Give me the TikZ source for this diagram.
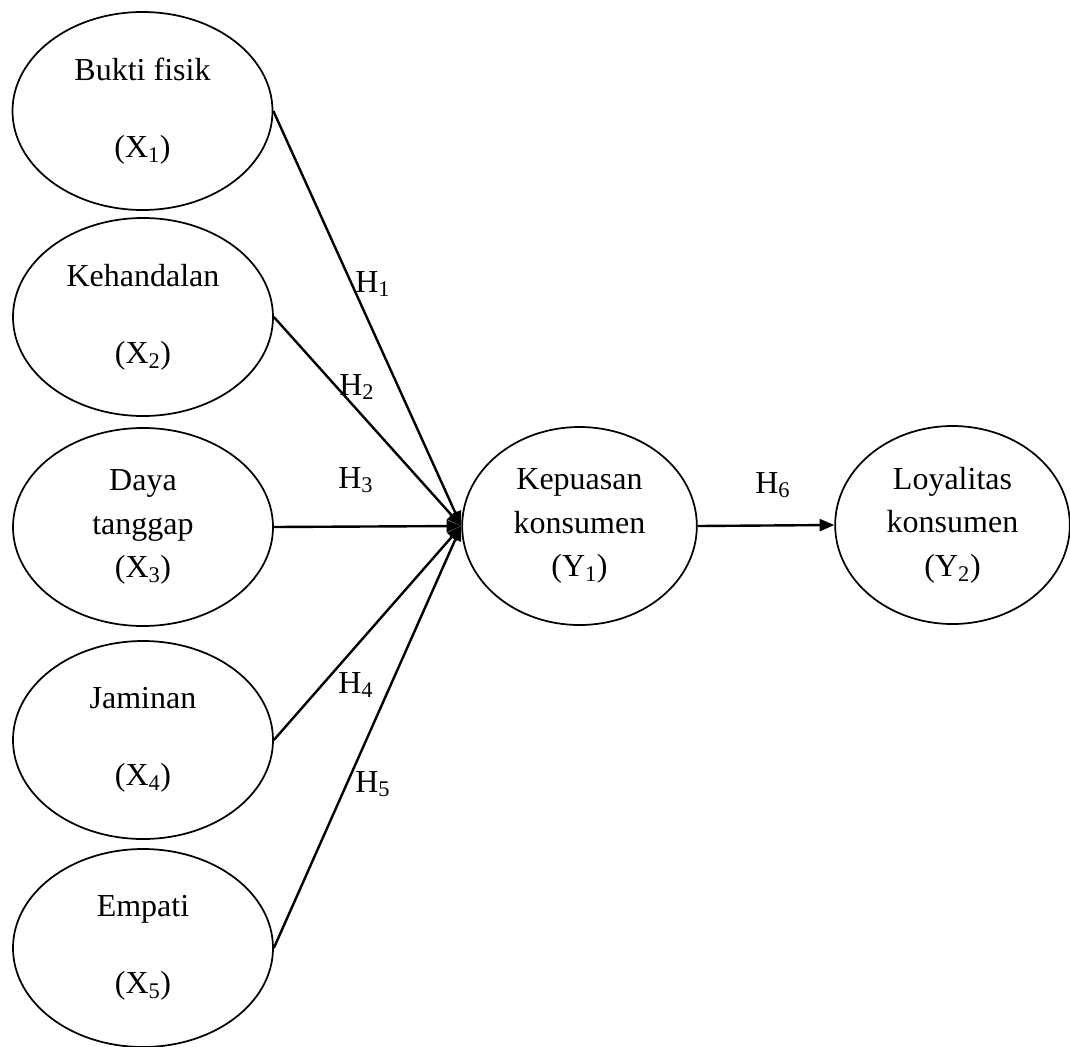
\documentclass[tikz,border=0pt]{standalone}
\usepackage{fontspec}
\setmainfont{Liberation Serif}
\usetikzlibrary{shapes.geometric,arrows.meta}
\begin{document}
\begin{tikzpicture}[x=0.75pt,y=-0.75pt,
  var/.style={draw,line width=1.3pt,ellipse,inner sep=0pt,align=center,
    minimum width=195pt,minimum height=148.5pt,
    font=\fontsize{24}{32.6}\selectfont},
  yvar/.style={var,minimum width=176pt},
  conn/.style={line width=1.8pt,-{Triangle[length=11pt,width=9pt]}},
  hlab/.style={anchor=base west,inner sep=0pt,font=\fontsize{24}{28}\selectfont}]
\useasboundingbox (0,0) rectangle (1070,1046);
\node[var] (x1) at (142.5,111) {Bukti fisik\\[25pt](X\textsubscript{1})};
\node[var] (x2) at (143,317) {Kehandalan\\[25pt](X\textsubscript{2})};
\node[var] (x3) at (143,527) {Daya\\tanggap\\(X\textsubscript{3})};
\node[var] (x4) at (143,740) {Jaminan\\[25pt](X\textsubscript{4})};
\node[var] (x5) at (143,948) {Empati\\[25pt](X\textsubscript{5})};
\node[yvar] (y1) at (579.5,526) {Kepuasan\\konsumen\\(Y\textsubscript{1})};
\node[yvar] (y2) at (952.5,525) {Loyalitas\\konsumen\\(Y\textsubscript{2})};
\draw[conn] (x1.east) -- (y1.west);
\draw[conn] (x2.east) -- (y1.west);
\draw[conn] (x3.east) -- (y1.west);
\draw[conn] (x4.east) -- (y1.west);
\draw[conn] (x5.east) -- (y1.west);
\draw[conn] (y1.east) -- (y2.west);
\node[hlab] (h1) at (355,292) {H\textsubscript{1}};
\node[hlab] (h2) at (339,395) {H\textsubscript{2}};
\node[hlab] (h3) at (338,488) {H\textsubscript{3}};
\node[hlab] (h4) at (338,693) {H\textsubscript{4}};
\node[hlab] (h5) at (355,792) {H\textsubscript{5}};
\node[hlab] (h6) at (755,493) {H\textsubscript{6}};
\end{tikzpicture}
\end{document}
